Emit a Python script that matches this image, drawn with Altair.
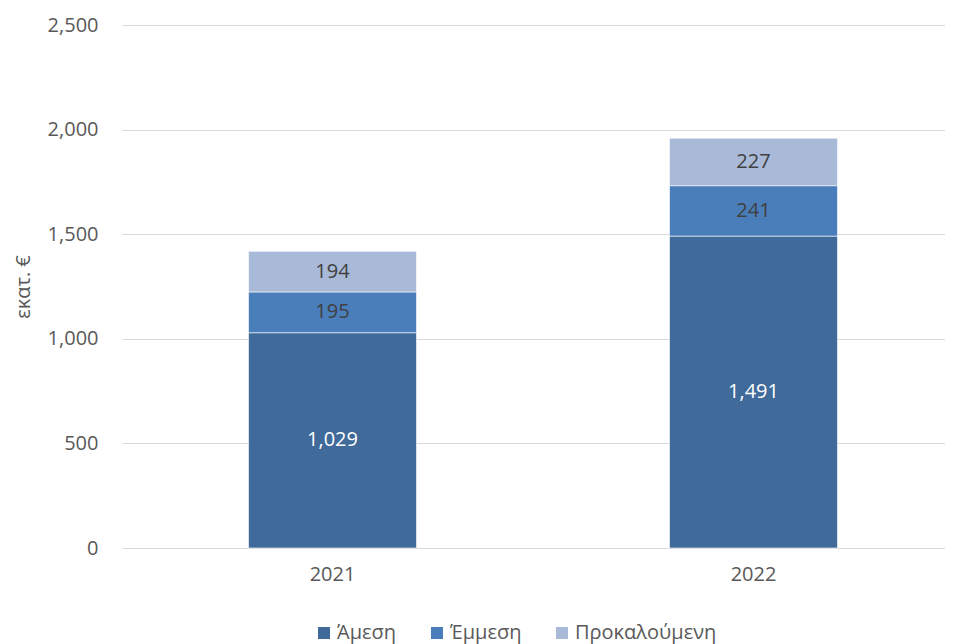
import altair as alt
import pandas as pd

years = ["2021", "2022"]
categories = ["Άμεση", "Έμμεση", "Προκαλούμενη"]
values_2021 = [1029, 195, 194]
values_2022 = [1491, 241, 227]
colors = ["#3F6A9A", "#4A7EBB", "#A9B9D8"]

rows = []
for y, vals in zip(years, [values_2021, values_2022]):
    for i, (c, v) in enumerate(zip(categories, vals)):
        rows.append({"year": y, "cat": c, "value": v, "ord": i})
df = pd.DataFrame(rows)

FONT = "Open Sans"
GREY = "#595959"
FS = 20

base = alt.Chart(df).transform_stack(
    stack="value", as_=["y0", "y1"], groupby=["year"], sort=[alt.SortField("ord")]
).transform_calculate(mid="(datum.y0 + datum.y1) / 2")

x = alt.X("year:N", title=None,
          scale=alt.Scale(range=[0, 842], paddingInner=0.601, paddingOuter=0.3005),
          axis=alt.Axis(labelAngle=0, labelFontSize=FS, labelColor=GREY, labelFont=FONT,
                        ticks=False, domain=False, labelPadding=16))

y_scale = alt.Scale(domain=[0, 2500])

bars = base.mark_bar(stroke="white", strokeWidth=0.6).encode(
    x=x,
    y=alt.Y("y0:Q", scale=y_scale, title="εκατ. €",
            axis=alt.Axis(values=[0, 500, 1000, 1500, 2000, 2500], format=",.0f",
                          labelFontSize=FS, labelColor=GREY, labelFont=FONT,
                          titleFontSize=FS, titleColor=GREY, titleFont=FONT,
                          titleFontWeight="normal", titlePadding=14,
                          ticks=False, domain=False, labelPadding=24,
                          gridColor="#D9D9D9", gridWidth=1.2)),
    y2="y1:Q",
    color=alt.Color("cat:N", scale=alt.Scale(domain=categories, range=colors),
                    legend=alt.Legend(title=None, orient="none", direction="horizontal",
                                      legendX=192, legendY=598,
                                      symbolType="square", symbolSize=144,
                                      symbolStrokeWidth=0,
                                      labelFontSize=FS, labelColor=GREY, labelFont=FONT,
                                      columnPadding=30, labelOffset=3)),
)

text = base.mark_text(fontSize=FS, font=FONT).encode(
    x=x,
    y=alt.Y("mid:Q", scale=y_scale),
    text=alt.Text("value:Q", format=",.0f"),
    color=alt.condition("datum.ord == 0", alt.value("white"), alt.value("#404040")),
)

chart = alt.layer(bars, text).properties(
    width=823, height=523,
    autosize=alt.AutoSizeParams(type="none"),
    padding={"left": 114, "top": 17, "right": 0, "bottom": 96},
).configure_view(stroke=None).configure_axis(gridColor="#D9D9D9")

chart.save("out.html", embed_options={"renderer": "svg", "actions": False})
